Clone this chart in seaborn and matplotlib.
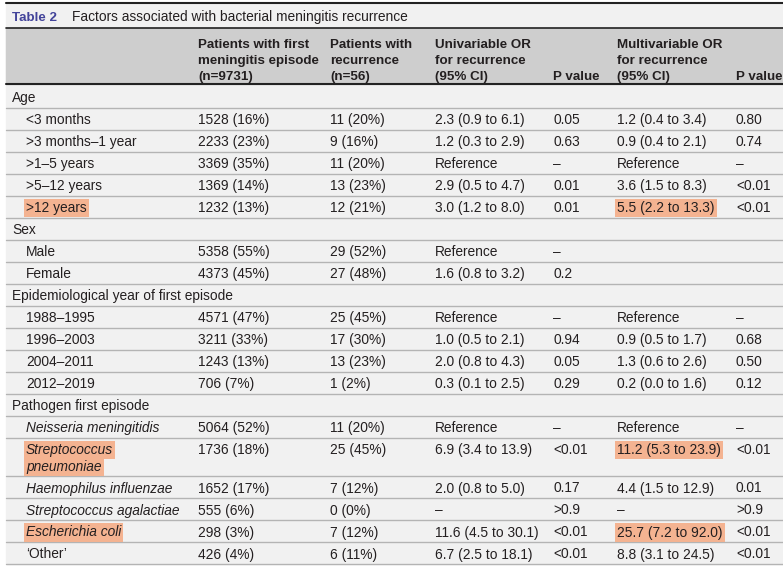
import matplotlib.pyplot as plt
import seaborn as sns

# Table content
labels = ["Age", "<3 months", ">3 months–1 year", ">1–5 years", ">5–12 years", ">12 years",
          "Sex", "Male", "Female",
          "Epidemiological year of first episode", "1988–1995", "1996–2003", "2004–2011", "2012–2019",
          "Pathogen first episode", "Neisseria meningitidis", "Streptococcus\npneumoniae",
          "Haemophilus influenzae", "Streptococcus agalactiae", "Escherichia coli", "‘Other’"]
sections = ["Age", "Sex", "Epidemiological year of first episode", "Pathogen first episode"]
italic_rows = ["Neisseria meningitidis", "Streptococcus\npneumoniae", "Haemophilus influenzae",
               "Streptococcus agalactiae", "Escherichia coli"]
first_episode = ["", "1528 (16%)", "2233 (23%)", "3369 (35%)", "1369 (14%)", "1232 (13%)",
                 "", "5358 (55%)", "4373 (45%)",
                 "", "4571 (47%)", "3211 (33%)", "1243 (13%)", "706 (7%)",
                 "", "5064 (52%)", "1736 (18%)", "1652 (17%)", "555 (6%)", "298 (3%)", "426 (4%)"]
recurrence = ["", "11 (20%)", "9 (16%)", "11 (20%)", "13 (23%)", "12 (21%)",
              "", "29 (52%)", "27 (48%)",
              "", "25 (45%)", "17 (30%)", "13 (23%)", "1 (2%)",
              "", "11 (20%)", "25 (45%)", "7 (12%)", "0 (0%)", "7 (12%)", "6 (11%)"]
uni_or = ["", "2.3 (0.9 to 6.1)", "1.2 (0.3 to 2.9)", "Reference", "2.9 (0.5 to 4.7)", "3.0 (1.2 to 8.0)",
          "", "Reference", "1.6 (0.8 to 3.2)",
          "", "Reference", "1.0 (0.5 to 2.1)", "2.0 (0.8 to 4.3)", "0.3 (0.1 to 2.5)",
          "", "Reference", "6.9 (3.4 to 13.9)", "2.0 (0.8 to 5.0)", "–", "11.6 (4.5 to 30.1)", "6.7 (2.5 to 18.1)"]
uni_p = ["", "0.05", "0.63", "–", "0.01", "0.01",
         "", "–", "0.2",
         "", "–", "0.94", "0.05", "0.29",
         "", "–", "<0.01", "0.17", ">0.9", "<0.01", "<0.01"]
multi_or = ["", "1.2 (0.4 to 3.4)", "0.9 (0.4 to 2.1)", "Reference", "3.6 (1.5 to 8.3)", "5.5 (2.2 to 13.3)",
            "", "", "",
            "", "Reference", "0.9 (0.5 to 1.7)", "1.3 (0.6 to 2.6)", "0.2 (0.0 to 1.6)",
            "", "Reference", "11.2 (5.3 to 23.9)", "4.4 (1.5 to 12.9)", "–", "25.7 (7.2 to 92.0)", "8.8 (3.1 to 24.5)"]
multi_p = ["", "0.80", "0.74", "–", "<0.01", "<0.01",
           "", "", "",
           "", "–", "0.68", "0.50", "0.12",
           "", "–", "<0.01", "0.01", ">0.9", "<0.01", "<0.01"]
highlights = [">12 years", "5.5 (2.2 to 13.3)", "Streptococcus\npneumoniae", "11.2 (5.3 to 23.9)",
              "Escherichia coli", "25.7 (7.2 to 92.0)"]

headers = ["", "Patients with first\nmeningitis episode\n(n=9731)", "Patients with\nrecurrence\n(n=56)",
           "Univariable OR\nfor recurrence\n(95% CI)", "\n\nP value",
           "Multivariable OR\nfor recurrence\n(95% CI)", "\n\nP value"]
title_num = "Table 2"
title_text = "Factors associated with bacterial meningitis recurrence"

sns.set_theme(style="white")
plt.rcParams['font.family'] = ['Liberation Sans', 'DejaVu Sans']

TXT = "#231f20"
HL = "#f4b391"
col_x = [26, 198, 330, 435, 553, 617, 736]
fs = 9.9
fs_head = 9.6

fig = plt.figure(figsize=(7.83, 5.66), dpi=100)
ax = fig.add_axes([0, 0, 1, 1])
ax.set_xlim(0, 783)
ax.set_ylim(566, 0)
ax.axis("off")

# backgrounds
ax.add_patch(plt.Rectangle((6, 3), 777, 561, color="#f1f1f1", zorder=0))
ax.add_patch(plt.Rectangle((6, 28), 777, 56, color="#cecece", zorder=0))
ax.plot([6, 783], [3, 3], color="#222222", lw=1.5)
ax.plot([6, 783], [28, 28], color="#222222", lw=1.2)
ax.plot([6, 783], [84, 84], color="#222222", lw=1.5)

# title
ax.text(12, 21, title_num, fontsize=fs_head, fontweight="bold", color="#43449a")
ax.text(72, 21, title_text, fontsize=fs, color=TXT)

# header
for x, h in zip(col_x, headers):
    for k, line in enumerate(h.split("\n")):
        if line:
            ax.text(x, 48 + 16 * k, line, fontsize=fs_head, fontweight="bold", color=TXT)

top = 84
for i, lab in enumerate(labels):
    two = "\n" in lab
    h = 23.5 if i == 0 else (38.5 if two else 22)
    base = top + h - 5.5 if not two else top + 16.5
    style = "italic" if lab in italic_rows else "normal"
    x0 = 12 if lab in sections else col_x[0]
    for k, line in enumerate(lab.split("\n")):
        bb = dict(boxstyle="square,pad=0.15", fc=HL, ec="none") if lab in highlights else None
        ax.text(x0, base + 17 * k, line, fontsize=fs, style=style, color=TXT, bbox=bb)
    vals = [first_episode[i], recurrence[i], uni_or[i], uni_p[i], multi_or[i], multi_p[i]]
    for x, v in zip(col_x[1:], vals):
        if v:
            bb = dict(boxstyle="square,pad=0.15", fc=HL, ec="none") if v in highlights else None
            ax.text(x, base, v, fontsize=fs, color=TXT, bbox=bb)
    top += h
    ax.plot([6, 783], [top, top], color="#b4b4b4", lw=1)

fig.savefig("out.png", dpi=100)
